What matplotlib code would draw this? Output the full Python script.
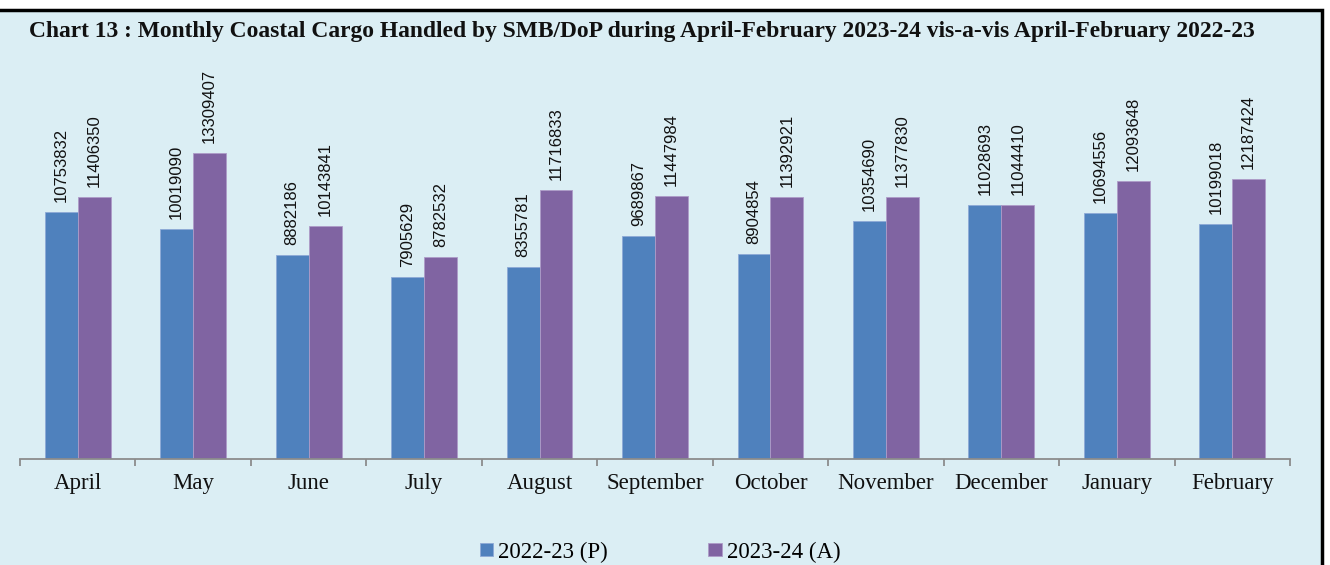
import matplotlib
matplotlib.use("Agg")
import matplotlib.pyplot as plt
from matplotlib.patches import Rectangle
import numpy as np

months = ["April", "May", "June", "July", "August", "September", "October",
          "November", "December", "January", "February"]
cargo_2022_23 = [10753832, 10019090, 8882186, 7905629, 8355781, 9689867,
                 8904854, 10354690, 11028693, 10694556, 10199018]
cargo_2023_24 = [11406350, 13309407, 10143841, 8782532, 11716833, 11447984,
                 11392921, 11377830, 11044410, 12093648, 12187424]
series_labels = ["2022-23 (P)", "2023-24 (A)"]
title = ("Chart 13 : Monthly Coastal Cargo Handled by SMB/DoP during "
         "April-February 2023-24 vis-a-vis April-February 2022-23")

W, H = 1330, 565
fig = plt.figure(figsize=(W / 100, H / 100), dpi=100)
fig.patch.set_facecolor("white")

bg = "#DBEEF4"
fig.patches.append(Rectangle((-6 / W, -10 / H), 1328 / W, (H) / H,
                             transform=fig.transFigure, facecolor=bg,
                             edgecolor="black", linewidth=2.5, zorder=0))

serif = ["Liberation Serif", "DejaVu Serif"]
narrow = ["Liberation Sans Narrow", "Liberation Sans", "DejaVu Sans"]

fig.text(29 / W, 1 - 31 / H, title, fontfamily=serif, fontweight="bold",
         fontsize=16.9, ha="left", va="center", color="#111111", zorder=3)

ax = fig.add_axes([20 / W, 106 / H, 1270 / W, 368 / H])
ax.set_zorder(2)
ax.set_facecolor("none")
ax.patch.set_alpha(0)

x = np.arange(len(months))
bw = 0.285
c1, c2 = "#4F81BD", "#8064A2"
b1 = ax.bar(x - bw / 2, cargo_2022_23, width=bw, color=c1,
            edgecolor="#8EA9D6", linewidth=0.6, label=series_labels[0])
b2 = ax.bar(x + bw / 2, cargo_2023_24, width=bw, color=c2,
            edgecolor="#AE9BC8", linewidth=0.6, label=series_labels[1])

for bars, vals in ((b1, cargo_2022_23), (b2, cargo_2023_24)):
    for rect, v in zip(bars, vals):
        ax.annotate(f"{v}", (rect.get_x() + rect.get_width() / 2, v),
                    xytext=(0, 10), textcoords="offset pixels",
                    rotation=90, ha="center", va="bottom",
                    fontfamily=narrow, fontsize=12, color="#111111")

ax.set_xlim(-0.5, len(months) - 0.5)
ax.set_ylim(0, 16e6)
for s in ("top", "right", "left"):
    ax.spines[s].set_visible(False)
ax.spines["bottom"].set_color("#8C8C8C")
ax.spines["bottom"].set_linewidth(1.3)
ax.set_yticks([])

ax.set_xticks(np.arange(len(months) + 1) - 0.5)
ax.set_xticklabels([])
ax.tick_params(axis="x", which="major", direction="out", length=5,
               color="#8C8C8C", width=1.3)
ax.set_xticks(x, minor=True)
ax.set_xticklabels(months, minor=True, fontfamily=serif, fontsize=16.5,
                   color="#111111")
ax.tick_params(axis="x", which="minor", length=0, pad=10)

leg = fig.legend(handles=[b1, b2], labels=series_labels, loc="center",
                 bbox_to_anchor=(660 / W, 13 / H), ncol=2, frameon=False,
                 prop={"family": serif, "size": 16.5}, handlelength=0.57,
                 handleheight=0.5, handletextpad=0.22, columnspacing=4.4)
leg.set_zorder(3)

fig.savefig("out.png", dpi=100, facecolor=fig.get_facecolor())
